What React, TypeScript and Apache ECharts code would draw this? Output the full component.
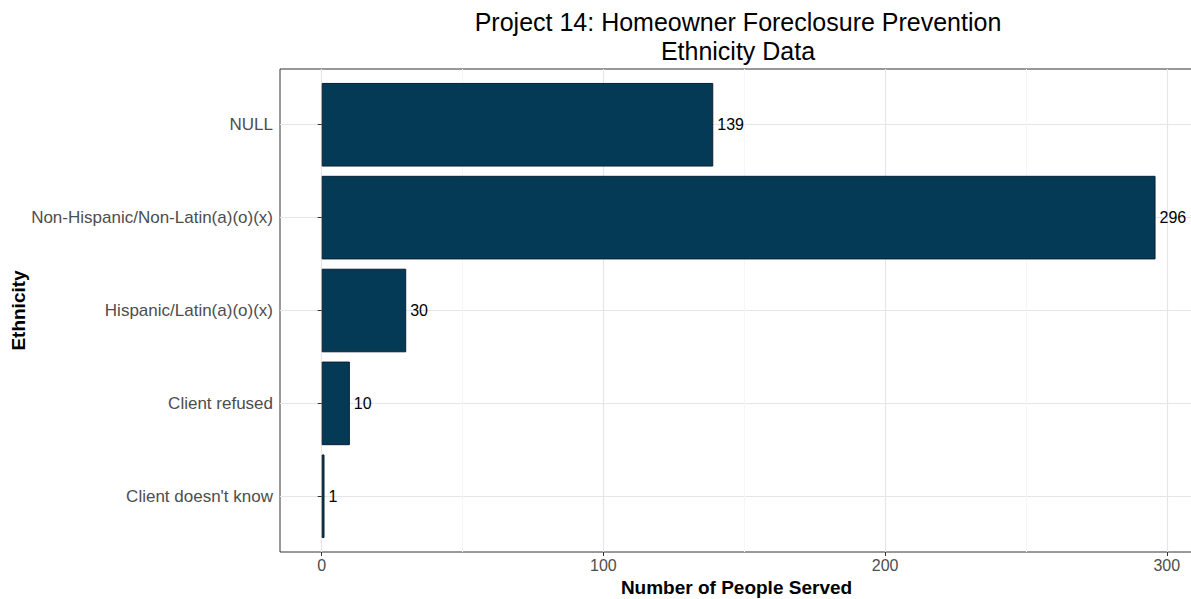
import React, { useEffect, useRef } from "react";
import * as echarts from "echarts";

const categories = [
  "NULL",
  "Non-Hispanic/Non-Latin(a)(o)(x)",
  "Hispanic/Latin(a)(o)(x)",
  "Client refused",
  "Client doesn't know",
];
const served = [139, 296, 30, 10, 1];
const titleText = "Project 14: Homeowner Foreclosure Prevention\nEthnicity Data";
const xTitle = "Number of People Served";
const yTitle = "Ethnicity";

const FONT = "'Liberation Sans', Arial, Helvetica, sans-serif";
const X_MIN = -14.8;
const X_MAX = 309.3;

export default function App() {
  const ref = useRef<HTMLDivElement>(null);
  useEffect(() => {
    if (!ref.current) return;
    const chart = echarts.init(ref.current, undefined, { renderer: "svg" });
    chart.setOption({
      animation: false,
      backgroundColor: "#ffffff",
      textStyle: { fontFamily: FONT },
      title: {
        text: titleText,
        left: 733,
        top: 2,
        textAlign: "center",
        textStyle: {
          fontFamily: FONT,
          fontSize: 25,
          lineHeight: 29,
          fontWeight: "normal",
          color: "#000000",
        },
      },
      grid: [
        {
          left: 280,
          right: -2,
          top: 69,
          bottom: 47,
          show: true,
          borderColor: "#333333",
          borderWidth: 1,
          backgroundColor: "transparent",
          containLabel: false,
          outerBoundsMode: "none",
        },
        {
          left: 280,
          right: -2,
          top: 78.3,
          bottom: 56.3,
          containLabel: false,
          outerBoundsMode: "none",
        },
      ],
      xAxis: [
        {
          type: "value",
          gridIndex: 0,
          min: X_MIN,
          max: X_MAX,
          splitNumber: 3,
          axisLine: { show: false },
          axisTick: { show: true, length: 4, lineStyle: { color: "#333333" } },
          axisLabel: {
            fontSize: 16,
            color: "#4d4d4d",
            fontFamily: FONT,
            margin: 5,
            showMinLabel: false,
            showMaxLabel: false,
            formatter: (v: number) => (v % 100 === 0 ? String(v) : ""),
          },
          splitLine: {
            show: true,
            showMinLine: false,
            showMaxLine: false,
            lineStyle: { color: "#e6e6e6", width: 1.2 },
          },
          minorTick: { show: false, splitNumber: 2 },
          minorSplitLine: { show: true, lineStyle: { color: "#f6f6f6", width: 1 } },
          name: xTitle,
          nameLocation: "middle",
          nameGap: 25,
          nameTextStyle: {
            fontFamily: FONT,
            fontSize: 19,
            fontWeight: "bold",
            color: "#000000",
          },
        },
        {
          type: "value",
          gridIndex: 1,
          min: X_MIN,
          max: X_MAX,
          show: false,
        },
      ],
      yAxis: [
        {
          type: "value",
          gridIndex: 0,
          min: 0.4,
          max: 5.6,
          splitNumber: 5,
          axisLine: { show: false },
          axisTick: { show: false },
          axisLabel: { show: false },
          splitLine: {
            show: true,
            showMinLine: false,
            showMaxLine: false,
            lineStyle: { color: "#e6e6e6", width: 1.2 },
          },
          name: yTitle,
          nameLocation: "middle",
          nameGap: 252,
          nameTextStyle: {
            fontFamily: FONT,
            fontSize: 19,
            fontWeight: "bold",
            color: "#000000",
          },
        },
        {
          type: "category",
          gridIndex: 1,
          data: categories,
          inverse: true,
          axisLine: { show: false },
          axisTick: {
            show: true,
            alignWithLabel: true,
            length: 4,
            lineStyle: { color: "#333333" },
          },
          axisLabel: {
            fontSize: 17,
            color: "#4d4d4d",
            fontFamily: FONT,
            margin: 7,
          },
          splitLine: { show: false },
        },
      ],
      series: [
        {
          type: "bar",
          xAxisIndex: 1,
          yAxisIndex: 1,
          data: served,
          barCategoryGap: "10%",
          itemStyle: {
            color: "#043a56",
            borderColor: "#0a1f33",
            borderWidth: 1,
          },
          label: {
            show: true,
            position: "right",
            distance: 4,
            fontSize: 16,
            color: "#000000",
            fontFamily: FONT,
          },
        },
      ],
    });
    return () => chart.dispose();
  }, []);
  return (
    <div
      ref={ref}
      style={{ position: "fixed", left: 0, top: 0, width: 1191, height: 599 }}
    />
  );
}
